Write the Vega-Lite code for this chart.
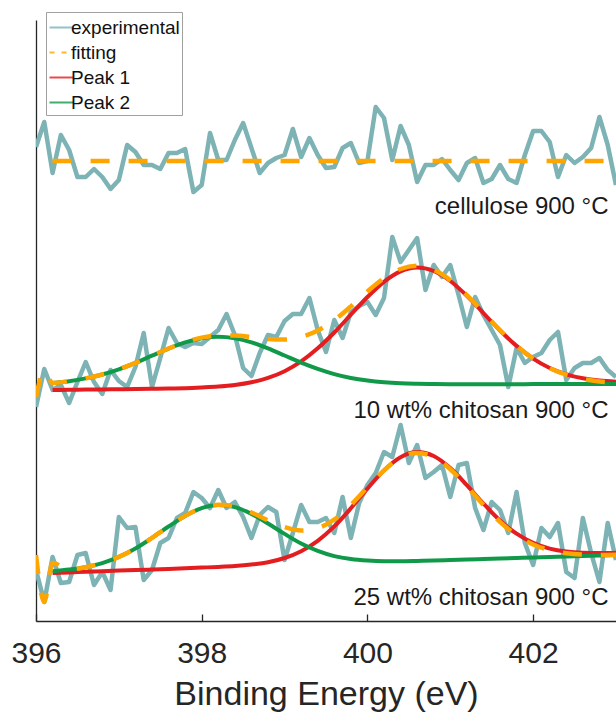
{
"$schema":"https://vega.github.io/schema/vega-lite/v6.json",
"width":580,"height":601,
"autosize":{"type":"none"},
"padding":{"left":36,"top":20,"right":0,"bottom":95},
"background":"white",
"config":{"view":{"stroke":null},"font":"Liberation Sans"},
"datasets":{
"exp":[
{"s":"a","g":"experimental","E":396.0,"I":474},{"s":"a","g":"experimental","E":396.1,"I":499},{"s":"a","g":"experimental","E":396.2,"I":448},{"s":"a","g":"experimental","E":396.3,"I":486},{"s":"a","g":"experimental","E":396.4,"I":471},{"s":"a","g":"experimental","E":396.5,"I":444},{"s":"a","g":"experimental","E":396.6,"I":444},{"s":"a","g":"experimental","E":396.7,"I":452},{"s":"a","g":"experimental","E":396.8,"I":444},{"s":"a","g":"experimental","E":396.9,"I":432},
{"s":"a","g":"experimental","E":397.0,"I":441},{"s":"a","g":"experimental","E":397.1,"I":476},{"s":"a","g":"experimental","E":397.2,"I":469},{"s":"a","g":"experimental","E":397.3,"I":456},{"s":"a","g":"experimental","E":397.4,"I":456},{"s":"a","g":"experimental","E":397.5,"I":452},{"s":"a","g":"experimental","E":397.6,"I":468},{"s":"a","g":"experimental","E":397.7,"I":468},{"s":"a","g":"experimental","E":397.8,"I":472},{"s":"a","g":"experimental","E":397.9,"I":429},
{"s":"a","g":"experimental","E":398.0,"I":436},{"s":"a","g":"experimental","E":398.1,"I":488},{"s":"a","g":"experimental","E":398.2,"I":461},{"s":"a","g":"experimental","E":398.3,"I":461},{"s":"a","g":"experimental","E":398.4,"I":481},{"s":"a","g":"experimental","E":398.5,"I":498},{"s":"a","g":"experimental","E":398.6,"I":473},{"s":"a","g":"experimental","E":398.7,"I":448},{"s":"a","g":"experimental","E":398.8,"I":458},{"s":"a","g":"experimental","E":398.9,"I":463},
{"s":"a","g":"experimental","E":399.0,"I":466},{"s":"a","g":"experimental","E":399.1,"I":492},{"s":"a","g":"experimental","E":399.2,"I":464},{"s":"a","g":"experimental","E":399.3,"I":483},{"s":"a","g":"experimental","E":399.4,"I":466},{"s":"a","g":"experimental","E":399.5,"I":453},{"s":"a","g":"experimental","E":399.6,"I":454},{"s":"a","g":"experimental","E":399.7,"I":473},{"s":"a","g":"experimental","E":399.8,"I":478},{"s":"a","g":"experimental","E":399.9,"I":458},
{"s":"a","g":"experimental","E":400.0,"I":460},{"s":"a","g":"experimental","E":400.1,"I":514},{"s":"a","g":"experimental","E":400.2,"I":503},{"s":"a","g":"experimental","E":400.3,"I":461},{"s":"a","g":"experimental","E":400.4,"I":495},{"s":"a","g":"experimental","E":400.5,"I":476},{"s":"a","g":"experimental","E":400.6,"I":439},{"s":"a","g":"experimental","E":400.7,"I":456},{"s":"a","g":"experimental","E":400.8,"I":456},{"s":"a","g":"experimental","E":400.9,"I":462},
{"s":"a","g":"experimental","E":401.0,"I":451},{"s":"a","g":"experimental","E":401.1,"I":441},{"s":"a","g":"experimental","E":401.2,"I":458},{"s":"a","g":"experimental","E":401.3,"I":463},{"s":"a","g":"experimental","E":401.4,"I":438},{"s":"a","g":"experimental","E":401.5,"I":442},{"s":"a","g":"experimental","E":401.6,"I":456},{"s":"a","g":"experimental","E":401.7,"I":442},{"s":"a","g":"experimental","E":401.8,"I":438},{"s":"a","g":"experimental","E":401.9,"I":466},
{"s":"a","g":"experimental","E":402.0,"I":490},{"s":"a","g":"experimental","E":402.1,"I":490},{"s":"a","g":"experimental","E":402.2,"I":479},{"s":"a","g":"experimental","E":402.3,"I":444},{"s":"a","g":"experimental","E":402.4,"I":466},{"s":"a","g":"experimental","E":402.5,"I":458},{"s":"a","g":"experimental","E":402.6,"I":464},{"s":"a","g":"experimental","E":402.7,"I":473},{"s":"a","g":"experimental","E":402.8,"I":504},{"s":"a","g":"experimental","E":402.9,"I":476},
{"s":"a","g":"experimental","E":403.0,"I":436},
{"s":"b","g":"experimental","E":396.0,"I":214},{"s":"b","g":"experimental","E":396.1,"I":252},{"s":"b","g":"experimental","E":396.2,"I":231},{"s":"b","g":"experimental","E":396.3,"I":236},{"s":"b","g":"experimental","E":396.4,"I":218},{"s":"b","g":"experimental","E":396.5,"I":239},{"s":"b","g":"experimental","E":396.6,"I":259},{"s":"b","g":"experimental","E":396.7,"I":239},{"s":"b","g":"experimental","E":396.8,"I":227},{"s":"b","g":"experimental","E":396.9,"I":251},
{"s":"b","g":"experimental","E":397.0,"I":240},{"s":"b","g":"experimental","E":397.1,"I":234},{"s":"b","g":"experimental","E":397.2,"I":254},{"s":"b","g":"experimental","E":397.3,"I":288},{"s":"b","g":"experimental","E":397.4,"I":234},{"s":"b","g":"experimental","E":397.5,"I":263},{"s":"b","g":"experimental","E":397.6,"I":293},{"s":"b","g":"experimental","E":397.7,"I":278},{"s":"b","g":"experimental","E":397.8,"I":274},{"s":"b","g":"experimental","E":397.9,"I":278},
{"s":"b","g":"experimental","E":398.0,"I":277},{"s":"b","g":"experimental","E":398.1,"I":284},{"s":"b","g":"experimental","E":398.2,"I":291},{"s":"b","g":"experimental","E":398.3,"I":307},{"s":"b","g":"experimental","E":398.4,"I":286},{"s":"b","g":"experimental","E":398.5,"I":253},{"s":"b","g":"experimental","E":398.6,"I":245},{"s":"b","g":"experimental","E":398.7,"I":268},{"s":"b","g":"experimental","E":398.8,"I":286},{"s":"b","g":"experimental","E":398.9,"I":284},
{"s":"b","g":"experimental","E":399.0,"I":300},{"s":"b","g":"experimental","E":399.1,"I":307},{"s":"b","g":"experimental","E":399.2,"I":307},{"s":"b","g":"experimental","E":399.3,"I":323},{"s":"b","g":"experimental","E":399.4,"I":291},{"s":"b","g":"experimental","E":399.5,"I":269},{"s":"b","g":"experimental","E":399.6,"I":301},{"s":"b","g":"experimental","E":399.7,"I":283},{"s":"b","g":"experimental","E":399.8,"I":309},{"s":"b","g":"experimental","E":399.9,"I":315},
{"s":"b","g":"experimental","E":400.0,"I":319},{"s":"b","g":"experimental","E":400.1,"I":306},{"s":"b","g":"experimental","E":400.2,"I":323},{"s":"b","g":"experimental","E":400.3,"I":384},{"s":"b","g":"experimental","E":400.4,"I":359},{"s":"b","g":"experimental","E":400.5,"I":371},{"s":"b","g":"experimental","E":400.6,"I":383},{"s":"b","g":"experimental","E":400.7,"I":331},{"s":"b","g":"experimental","E":400.8,"I":356},{"s":"b","g":"experimental","E":400.9,"I":344},
{"s":"b","g":"experimental","E":401.0,"I":356},{"s":"b","g":"experimental","E":401.1,"I":326},{"s":"b","g":"experimental","E":401.2,"I":294},{"s":"b","g":"experimental","E":401.3,"I":324},{"s":"b","g":"experimental","E":401.4,"I":306},{"s":"b","g":"experimental","E":401.5,"I":291},{"s":"b","g":"experimental","E":401.6,"I":276},{"s":"b","g":"experimental","E":401.7,"I":234},{"s":"b","g":"experimental","E":401.8,"I":273},{"s":"b","g":"experimental","E":401.9,"I":258},
{"s":"b","g":"experimental","E":402.0,"I":264},{"s":"b","g":"experimental","E":402.1,"I":268},{"s":"b","g":"experimental","E":402.2,"I":281},{"s":"b","g":"experimental","E":402.3,"I":289},{"s":"b","g":"experimental","E":402.4,"I":241},{"s":"b","g":"experimental","E":402.5,"I":253},{"s":"b","g":"experimental","E":402.6,"I":258},{"s":"b","g":"experimental","E":402.7,"I":258},{"s":"b","g":"experimental","E":402.8,"I":263},{"s":"b","g":"experimental","E":402.9,"I":251},
{"s":"b","g":"experimental","E":403.0,"I":244},
{"s":"c","g":"experimental","E":396.0,"I":51},{"s":"c","g":"experimental","E":396.1,"I":19},{"s":"c","g":"experimental","E":396.2,"I":64},{"s":"c","g":"experimental","E":396.3,"I":38},{"s":"c","g":"experimental","E":396.4,"I":39},{"s":"c","g":"experimental","E":396.5,"I":66},{"s":"c","g":"experimental","E":396.6,"I":68},{"s":"c","g":"experimental","E":396.7,"I":36},{"s":"c","g":"experimental","E":396.8,"I":49},{"s":"c","g":"experimental","E":396.9,"I":31},
{"s":"c","g":"experimental","E":397.0,"I":104},{"s":"c","g":"experimental","E":397.1,"I":93},{"s":"c","g":"experimental","E":397.2,"I":94},{"s":"c","g":"experimental","E":397.3,"I":41},{"s":"c","g":"experimental","E":397.4,"I":51},{"s":"c","g":"experimental","E":397.5,"I":78},{"s":"c","g":"experimental","E":397.6,"I":83},{"s":"c","g":"experimental","E":397.7,"I":103},{"s":"c","g":"experimental","E":397.8,"I":108},{"s":"c","g":"experimental","E":397.9,"I":129},
{"s":"c","g":"experimental","E":398.0,"I":123},{"s":"c","g":"experimental","E":398.1,"I":113},{"s":"c","g":"experimental","E":398.2,"I":131},{"s":"c","g":"experimental","E":398.3,"I":113},{"s":"c","g":"experimental","E":398.4,"I":119},{"s":"c","g":"experimental","E":398.5,"I":104},{"s":"c","g":"experimental","E":398.6,"I":83},{"s":"c","g":"experimental","E":398.7,"I":106},{"s":"c","g":"experimental","E":398.8,"I":114},{"s":"c","g":"experimental","E":398.9,"I":109},
{"s":"c","g":"experimental","E":399.0,"I":61},{"s":"c","g":"experimental","E":399.1,"I":88},{"s":"c","g":"experimental","E":399.2,"I":116},{"s":"c","g":"experimental","E":399.3,"I":99},{"s":"c","g":"experimental","E":399.4,"I":99},{"s":"c","g":"experimental","E":399.5,"I":103},{"s":"c","g":"experimental","E":399.6,"I":88},{"s":"c","g":"experimental","E":399.7,"I":124},{"s":"c","g":"experimental","E":399.8,"I":83},{"s":"c","g":"experimental","E":399.9,"I":118},
{"s":"c","g":"experimental","E":400.0,"I":136},{"s":"c","g":"experimental","E":400.1,"I":148},{"s":"c","g":"experimental","E":400.2,"I":169},{"s":"c","g":"experimental","E":400.3,"I":164},{"s":"c","g":"experimental","E":400.4,"I":196},{"s":"c","g":"experimental","E":400.5,"I":158},{"s":"c","g":"experimental","E":400.6,"I":176},{"s":"c","g":"experimental","E":400.7,"I":143},{"s":"c","g":"experimental","E":400.8,"I":149},{"s":"c","g":"experimental","E":400.9,"I":156},
{"s":"c","g":"experimental","E":401.0,"I":124},{"s":"c","g":"experimental","E":401.1,"I":156},{"s":"c","g":"experimental","E":401.2,"I":158},{"s":"c","g":"experimental","E":401.3,"I":113},{"s":"c","g":"experimental","E":401.4,"I":91},{"s":"c","g":"experimental","E":401.5,"I":119},{"s":"c","g":"experimental","E":401.6,"I":111},{"s":"c","g":"experimental","E":401.7,"I":88},{"s":"c","g":"experimental","E":401.8,"I":129},{"s":"c","g":"experimental","E":401.9,"I":78},
{"s":"c","g":"experimental","E":402.0,"I":56},{"s":"c","g":"experimental","E":402.1,"I":93},{"s":"c","g":"experimental","E":402.2,"I":84},{"s":"c","g":"experimental","E":402.3,"I":98},{"s":"c","g":"experimental","E":402.4,"I":49},{"s":"c","g":"experimental","E":402.5,"I":43},{"s":"c","g":"experimental","E":402.6,"I":103},{"s":"c","g":"experimental","E":402.7,"I":68},{"s":"c","g":"experimental","E":402.8,"I":39},{"s":"c","g":"experimental","E":402.9,"I":98},
{"s":"c","g":"experimental","E":403.0,"I":61}
],
"fit":[
{"s":"a","g":"fitting","E":396.2,"I":460},{"s":"a","g":"fitting","E":403.0,"I":460},
{"s":"b","g":"Peak 1","E":396.2,"I":231},{"s":"b","g":"Peak 1","E":396.4,"I":231.2},{"s":"b","g":"Peak 1","E":396.6,"I":231.4},{"s":"b","g":"Peak 1","E":396.8,"I":231.6},{"s":"b","g":"Peak 1","E":397.0,"I":231.8},{"s":"b","g":"Peak 1","E":397.2,"I":232},{"s":"b","g":"Peak 1","E":397.4,"I":232.2},{"s":"b","g":"Peak 1","E":397.6,"I":232.5},{"s":"b","g":"Peak 1","E":397.8,"I":232.8},{"s":"b","g":"Peak 1","E":398.0,"I":233.5},{"s":"b","g":"Peak 1","E":398.2,"I":234.4},{"s":"b","g":"Peak 1","E":398.4,"I":236},{"s":"b","g":"Peak 1","E":398.6,"I":238.7},{"s":"b","g":"Peak 1","E":398.8,"I":243.1},{"s":"b","g":"Peak 1","E":399.0,"I":249.8},{"s":"b","g":"Peak 1","E":399.2,"I":259.6},{"s":"b","g":"Peak 1","E":399.4,"I":272.7},{"s":"b","g":"Peak 1","E":399.6,"I":288.5},{"s":"b","g":"Peak 1","E":399.8,"I":306.3},{"s":"b","g":"Peak 1","E":400.0,"I":324},{"s":"b","g":"Peak 1","E":400.2,"I":339.2},{"s":"b","g":"Peak 1","E":400.4,"I":349.6},{"s":"b","g":"Peak 1","E":400.6,"I":353.5},{"s":"b","g":"Peak 1","E":400.8,"I":350},{"s":"b","g":"Peak 1","E":401.0,"I":340},{"s":"b","g":"Peak 1","E":401.2,"I":325.2},{"s":"b","g":"Peak 1","E":401.4,"I":307.9},{"s":"b","g":"Peak 1","E":401.6,"I":290.5},{"s":"b","g":"Peak 1","E":401.8,"I":275.1},{"s":"b","g":"Peak 1","E":402.0,"I":262.4},{"s":"b","g":"Peak 1","E":402.2,"I":253},{"s":"b","g":"Peak 1","E":402.4,"I":246.7},{"s":"b","g":"Peak 1","E":402.6,"I":242.7},{"s":"b","g":"Peak 1","E":402.8,"I":240.4},{"s":"b","g":"Peak 1","E":403.0,"I":239.3},
{"s":"b","g":"Peak 2","E":396.2,"I":238.1},{"s":"b","g":"Peak 2","E":396.4,"I":239.8},{"s":"b","g":"Peak 2","E":396.6,"I":242.6},{"s":"b","g":"Peak 2","E":396.8,"I":246.5},{"s":"b","g":"Peak 2","E":397.0,"I":251.7},{"s":"b","g":"Peak 2","E":397.2,"I":258.1},{"s":"b","g":"Peak 2","E":397.4,"I":265.3},{"s":"b","g":"Peak 2","E":397.6,"I":272.4},{"s":"b","g":"Peak 2","E":397.8,"I":278.6},{"s":"b","g":"Peak 2","E":398.0,"I":282.8},{"s":"b","g":"Peak 2","E":398.2,"I":284.3},{"s":"b","g":"Peak 2","E":398.4,"I":282.8},{"s":"b","g":"Peak 2","E":398.6,"I":278.7},{"s":"b","g":"Peak 2","E":398.8,"I":272.6},{"s":"b","g":"Peak 2","E":399.0,"I":265.5},{"s":"b","g":"Peak 2","E":399.2,"I":258.4},{"s":"b","g":"Peak 2","E":399.4,"I":252.1},{"s":"b","g":"Peak 2","E":399.6,"I":246.9},{"s":"b","g":"Peak 2","E":399.8,"I":243},{"s":"b","g":"Peak 2","E":400.0,"I":240.4},{"s":"b","g":"Peak 2","E":400.2,"I":238.7},{"s":"b","g":"Peak 2","E":400.4,"I":237.7},{"s":"b","g":"Peak 2","E":400.6,"I":237.2},{"s":"b","g":"Peak 2","E":400.8,"I":236.9},{"s":"b","g":"Peak 2","E":401.0,"I":236.8},{"s":"b","g":"Peak 2","E":401.2,"I":236.8},{"s":"b","g":"Peak 2","E":401.4,"I":236.8},{"s":"b","g":"Peak 2","E":401.6,"I":236.8},{"s":"b","g":"Peak 2","E":401.8,"I":236.8},{"s":"b","g":"Peak 2","E":402.0,"I":236.9},{"s":"b","g":"Peak 2","E":402.2,"I":236.9},{"s":"b","g":"Peak 2","E":402.4,"I":236.9},{"s":"b","g":"Peak 2","E":402.6,"I":236.9},{"s":"b","g":"Peak 2","E":402.8,"I":237},{"s":"b","g":"Peak 2","E":403.0,"I":237},
{"s":"b","g":"fitting","E":396.0,"I":224},{"s":"b","g":"fitting","E":396.1,"I":250},{"s":"b","g":"fitting","E":396.2,"I":238.1},{"s":"b","g":"fitting","E":396.4,"I":239.8},{"s":"b","g":"fitting","E":396.6,"I":242.6},{"s":"b","g":"fitting","E":396.8,"I":246.5},{"s":"b","g":"fitting","E":397.0,"I":251.7},{"s":"b","g":"fitting","E":397.2,"I":258.1},{"s":"b","g":"fitting","E":397.4,"I":265.3},{"s":"b","g":"fitting","E":397.6,"I":272.5},{"s":"b","g":"fitting","E":397.8,"I":278.8},{"s":"b","g":"fitting","E":398.0,"I":283.4},{"s":"b","g":"fitting","E":398.2,"I":285.6},{"s":"b","g":"fitting","E":398.4,"I":285.5},{"s":"b","g":"fitting","E":398.6,"I":283.9},{"s":"b","g":"fitting","E":398.8,"I":282},{"s":"b","g":"fitting","E":399.0,"I":281.4},{"s":"b","g":"fitting","E":399.2,"I":283.9},{"s":"b","g":"fitting","E":399.4,"I":290.5},{"s":"b","g":"fitting","E":399.6,"I":300.9},{"s":"b","g":"fitting","E":399.8,"I":314.6},{"s":"b","g":"fitting","E":400.0,"I":329.5},{"s":"b","g":"fitting","E":400.2,"I":342.8},{"s":"b","g":"fitting","E":400.4,"I":352},{"s":"b","g":"fitting","E":400.6,"I":355.2},{"s":"b","g":"fitting","E":400.8,"I":351.2},{"s":"b","g":"fitting","E":401.0,"I":340.9},{"s":"b","g":"fitting","E":401.2,"I":325.8},{"s":"b","g":"fitting","E":401.4,"I":308.4},{"s":"b","g":"fitting","E":401.6,"I":290.8},{"s":"b","g":"fitting","E":401.8,"I":275.2},{"s":"b","g":"fitting","E":402.0,"I":262.4},{"s":"b","g":"fitting","E":402.2,"I":252.9},{"s":"b","g":"fitting","E":402.4,"I":246.3},{"s":"b","g":"fitting","E":402.6,"I":242.1},{"s":"b","g":"fitting","E":402.8,"I":239.6},{"s":"b","g":"fitting","E":403.0,"I":238.3},
{"s":"c","g":"Peak 1","E":396.2,"I":48},{"s":"c","g":"Peak 1","E":396.4,"I":48.6},{"s":"c","g":"Peak 1","E":396.6,"I":49.2},{"s":"c","g":"Peak 1","E":396.8,"I":49.8},{"s":"c","g":"Peak 1","E":397.0,"I":50.4},{"s":"c","g":"Peak 1","E":397.2,"I":50.9},{"s":"c","g":"Peak 1","E":397.4,"I":51.5},{"s":"c","g":"Peak 1","E":397.6,"I":52.1},{"s":"c","g":"Peak 1","E":397.8,"I":52.7},{"s":"c","g":"Peak 1","E":398.0,"I":53.4},{"s":"c","g":"Peak 1","E":398.2,"I":54.1},{"s":"c","g":"Peak 1","E":398.4,"I":55},{"s":"c","g":"Peak 1","E":398.6,"I":56.5},{"s":"c","g":"Peak 1","E":398.8,"I":58.8},{"s":"c","g":"Peak 1","E":399.0,"I":63},{"s":"c","g":"Peak 1","E":399.2,"I":69.8},{"s":"c","g":"Peak 1","E":399.4,"I":80.2},{"s":"c","g":"Peak 1","E":399.6,"I":94.6},{"s":"c","g":"Peak 1","E":399.8,"I":112.7},{"s":"c","g":"Peak 1","E":400.0,"I":132.4},{"s":"c","g":"Peak 1","E":400.2,"I":150.6},{"s":"c","g":"Peak 1","E":400.4,"I":163.8},{"s":"c","g":"Peak 1","E":400.6,"I":168.9},{"s":"c","g":"Peak 1","E":400.8,"I":165},{"s":"c","g":"Peak 1","E":401.0,"I":152.9},{"s":"c","g":"Peak 1","E":401.2,"I":135.9},{"s":"c","g":"Peak 1","E":401.4,"I":117.4},{"s":"c","g":"Peak 1","E":401.6,"I":100.5},{"s":"c","g":"Peak 1","E":401.8,"I":87.3},{"s":"c","g":"Peak 1","E":402.0,"I":78.1},{"s":"c","g":"Peak 1","E":402.2,"I":72.4},{"s":"c","g":"Peak 1","E":402.4,"I":69.4},{"s":"c","g":"Peak 1","E":402.6,"I":68.2},{"s":"c","g":"Peak 1","E":402.8,"I":67.9},{"s":"c","g":"Peak 1","E":403.0,"I":68.2},
{"s":"c","g":"Peak 2","E":396.2,"I":49.8},{"s":"c","g":"Peak 2","E":396.4,"I":51.4},{"s":"c","g":"Peak 2","E":396.6,"I":53.9},{"s":"c","g":"Peak 2","E":396.8,"I":57.9},{"s":"c","g":"Peak 2","E":397.0,"I":64.1},{"s":"c","g":"Peak 2","E":397.2,"I":72.5},{"s":"c","g":"Peak 2","E":397.4,"I":83.1},{"s":"c","g":"Peak 2","E":397.6,"I":94.5},{"s":"c","g":"Peak 2","E":397.8,"I":105.1},{"s":"c","g":"Peak 2","E":398.0,"I":112.9},{"s":"c","g":"Peak 2","E":398.2,"I":116},{"s":"c","g":"Peak 2","E":398.4,"I":113.9},{"s":"c","g":"Peak 2","E":398.6,"I":107.1},{"s":"c","g":"Peak 2","E":398.8,"I":97.5},{"s":"c","g":"Peak 2","E":399.0,"I":87.1},{"s":"c","g":"Peak 2","E":399.2,"I":77.5},{"s":"c","g":"Peak 2","E":399.4,"I":70.1},{"s":"c","g":"Peak 2","E":399.6,"I":64.9},{"s":"c","g":"Peak 2","E":399.8,"I":61.9},{"s":"c","g":"Peak 2","E":400.0,"I":60.4},{"s":"c","g":"Peak 2","E":400.2,"I":59.8},{"s":"c","g":"Peak 2","E":400.4,"I":59.8},{"s":"c","g":"Peak 2","E":400.6,"I":60.1},{"s":"c","g":"Peak 2","E":400.8,"I":60.5},{"s":"c","g":"Peak 2","E":401.0,"I":61},{"s":"c","g":"Peak 2","E":401.2,"I":61.5},{"s":"c","g":"Peak 2","E":401.4,"I":62},{"s":"c","g":"Peak 2","E":401.6,"I":62.5},{"s":"c","g":"Peak 2","E":401.8,"I":63},{"s":"c","g":"Peak 2","E":402.0,"I":63.5},{"s":"c","g":"Peak 2","E":402.2,"I":64},{"s":"c","g":"Peak 2","E":402.4,"I":64.5},{"s":"c","g":"Peak 2","E":402.6,"I":65},{"s":"c","g":"Peak 2","E":402.8,"I":65.5},{"s":"c","g":"Peak 2","E":403.0,"I":66},
{"s":"c","g":"fitting","E":396.0,"I":66},{"s":"c","g":"fitting","E":396.1,"I":19},{"s":"c","g":"fitting","E":396.2,"I":58},{"s":"c","g":"fitting","E":396.4,"I":51.4},{"s":"c","g":"fitting","E":396.6,"I":53.9},{"s":"c","g":"fitting","E":396.8,"I":57.9},{"s":"c","g":"fitting","E":397.0,"I":64.1},{"s":"c","g":"fitting","E":397.2,"I":72.5},{"s":"c","g":"fitting","E":397.4,"I":83.1},{"s":"c","g":"fitting","E":397.6,"I":94.5},{"s":"c","g":"fitting","E":397.8,"I":105.1},{"s":"c","g":"fitting","E":398.0,"I":113},{"s":"c","g":"fitting","E":398.2,"I":116.2},{"s":"c","g":"fitting","E":398.4,"I":114.4},{"s":"c","g":"fitting","E":398.6,"I":108.5},{"s":"c","g":"fitting","E":398.8,"I":100.7},{"s":"c","g":"fitting","E":399.0,"I":93.9},{"s":"c","g":"fitting","E":399.2,"I":90.5},{"s":"c","g":"fitting","E":399.4,"I":92.9},{"s":"c","g":"fitting","E":399.6,"I":101.5},{"s":"c","g":"fitting","E":399.8,"I":116},{"s":"c","g":"fitting","E":400.0,"I":133.6},{"s":"c","g":"fitting","E":400.2,"I":150.6},{"s":"c","g":"fitting","E":400.4,"I":163.3},{"s":"c","g":"fitting","E":400.6,"I":168.1},{"s":"c","g":"fitting","E":400.8,"I":164},{"s":"c","g":"fitting","E":401.0,"I":151.8},{"s":"c","g":"fitting","E":401.2,"I":134.7},{"s":"c","g":"fitting","E":401.4,"I":116.1},{"s":"c","g":"fitting","E":401.6,"I":99.1},{"s":"c","g":"fitting","E":401.8,"I":85.8},{"s":"c","g":"fitting","E":402.0,"I":76.5},{"s":"c","g":"fitting","E":402.2,"I":70.8},{"s":"c","g":"fitting","E":402.4,"I":67.7},{"s":"c","g":"fitting","E":402.6,"I":66.4},{"s":"c","g":"fitting","E":402.8,"I":66},{"s":"c","g":"fitting","E":403.0,"I":66.2}
],
"labels":[
{"label":"cellulose 900 °C","E":402.91,"I":407},
{"label":"10 wt% chitosan 900 °C","E":402.91,"I":203},
{"label":"25 wt% chitosan 900 °C","E":402.91,"I":16}
]
},
"encoding":{
"x":{"field":"E","type":"quantitative","scale":{"domain":[396,403],"nice":false,"zero":false},
 "axis":{"values":[396,398,400,402],"format":"d","title":"Binding Energy (eV)","grid":false,"labelFlush":false,"labelOverlap":false,
 "labelFontSize":30,"labelFont":"Liberation Sans","labelColor":"#262626","labelPadding":24,"tickSize":-7,"tickColor":"#262626","tickWidth":1.3,
 "domainColor":"#262626","domainWidth":1.3,"titleFontSize":34,"titleFont":"Liberation Sans","titleFontWeight":"normal","titleColor":"#262626","titlePadding":9}},
"y":{"field":"I","type":"quantitative","scale":{"domain":[0,601],"nice":false,"zero":false},
 "axis":{"title":null,"labels":false,"ticks":false,"grid":false,"domainColor":"#262626","domainWidth":1.3}}
},
"layer":[
{"data":{"name":"exp"},"mark":{"type":"line","strokeWidth":4.5,"strokeJoin":"round","clip":true},
 "encoding":{"detail":{"field":"s"},
 "color":{"field":"g","type":"nominal","scale":{"domain":["experimental","fitting","Peak 1","Peak 2"],"range":["#7db3b4","#ffa500","#e41e20","#11994a"]},
 "legend":{"title":null,"orient":"none","legendX":10,"legendY":-8,"labelFont":"Liberation Sans","labelFontSize":19,"labelColor":"#111","labelOffset":-4,
 "symbolType":"stroke","symbolSize":576,"symbolStrokeWidth":2.2,"symbolOpacity":0.8,"rowPadding":1,"padding":2,"strokeColor":"#a0a0a0","fillColor":"white",
 "encode":{"symbols":{"update":{"strokeDash":{"signal":"datum.value === 'fitting' ? [5,7] : [1,0]"}}}}}}}},
{"data":{"name":"fit"},"transform":[{"filter":"datum.g === 'Peak 1'"}],"mark":{"type":"line","strokeWidth":4,"interpolate":"monotone","clip":true},
 "encoding":{"detail":{"field":"s"},"color":{"field":"g","type":"nominal"}}},
{"data":{"name":"fit"},"transform":[{"filter":"datum.g === 'Peak 2'"}],"mark":{"type":"line","strokeWidth":4,"interpolate":"monotone","clip":true},
 "encoding":{"detail":{"field":"s"},"color":{"field":"g","type":"nominal"}}},
{"data":{"name":"fit"},"transform":[{"filter":"datum.g === 'fitting'"}],"mark":{"type":"line","strokeWidth":4.5,"interpolate":"monotone","strokeDash":[19,19],"strokeCap":"butt","clip":true},
 "encoding":{"detail":{"field":"s"},"color":{"field":"g","type":"nominal"}}},
{"data":{"name":"labels"},"mark":{"type":"text","align":"right","baseline":"alphabetic","fontSize":24,"font":"Liberation Sans","color":"#1a1a1a"},
 "encoding":{"text":{"field":"label"}}}
]
}
